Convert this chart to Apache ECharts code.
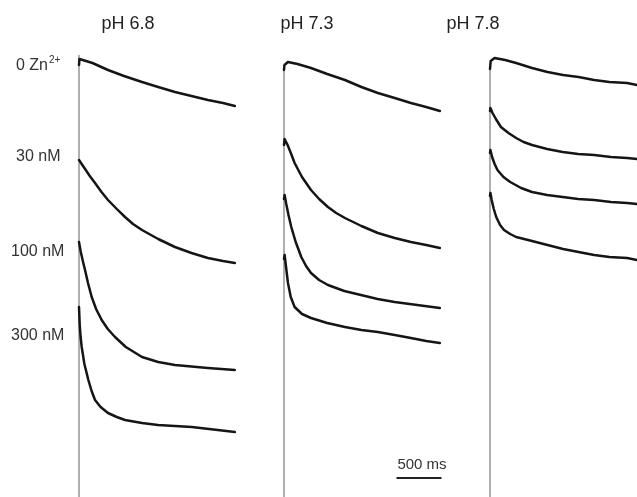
<!DOCTYPE html>
<html><head><meta charset="utf-8">
<script src="https://cdn.jsdelivr.net/npm/echarts@6/dist/echarts.min.js"></script>
<style>html,body{margin:0;padding:0;background:#fff}#c{width:637px;height:497px}</style>
</head><body><div id="c"></div>
<script>
// Panel titles and trace labels
const panelTitles = ['pH 6.8', 'pH 7.3', 'pH 7.8'];
const traceLabels = ['0 Zn', '30 nM', '100 nM', '300 nM'];

// Traces: [time (ms), current (a.u.)]
const ph68_zn0   = [[0,432],[5,438],[11,440],[150,434],[322,427],[500,421],[700,415],[880,410],[1066,405],[1250,401],[1432,397],[1600,394],[1732,391]];
const ph68_nM30  = [[0,337],[60,329],[120,321],[178,314],[250,305],[322,297],[420,288],[511,280],[600,273],[700,267],[880,258],[1066,250],[1250,244],[1432,239],[1600,236],[1732,234]];
const ph68_nM100 = [[0,255],[20,245],[45,235],[67,227],[100,214],[141,200],[190,188],[252,177],[320,168],[400,160],[520,150],[700,140],[880,135],[1066,132],[1432,129],[1732,127]];
const ph68_nM300 = [[0,190],[8,172],[18,160],[30,150],[60,133],[104,117],[140,106],[178,97],[240,90],[322,84],[420,80],[511,77],[700,74],[877,72],[1254,70],[1732,65]];

const ph73_zn0   = [[0,427],[5,432],[15,434],[44,435],[150,433],[300,429],[480,423],[677,417],[860,410],[1043,404],[1230,399],[1410,394],[1580,390],[1732,386]];
const ph73_nM30  = [[0,352],[7,358],[14,359],[40,352],[80,343],[118,334],[200,320],[300,307],[390,298],[488,290],[580,284],[677,279],[860,271],[1043,264],[1230,259],[1410,255],[1580,252],[1732,249]];
const ph73_nM100 = [[0,298],[7,302],[25,293],[50,282],[81,270],[130,255],[192,240],[245,231],[300,224],[390,217],[488,212],[670,206],[855,202],[1040,198],[1229,195],[1480,192],[1732,189]];
const ph73_nM300 = [[0,238],[7,242],[20,232],[44,214],[75,200],[118,190],[200,183],[300,179],[480,174],[677,170],[860,167],[1043,165],[1230,162],[1410,159],[1580,156],[1732,154]];

const ph78_zn0   = [[0,428],[8,436],[25,438],[55,439],[180,437],[311,434],[500,429],[685,425],[870,422],[1054,420],[1240,417],[1421,415],[1632,414],[1750,412]];
const ph78_nM30  = [[0,386],[5,389],[30,384],[70,378],[130,370],[220,364],[311,359],[400,355],[500,352],[680,348],[866,345],[1050,343],[1240,342],[1440,340],[1632,339],[1750,338]];
const ph78_nM100 = [[0,344],[5,347],[25,340],[55,333],[89,327],[160,320],[241,315],[370,309],[500,305],[680,302],[866,300],[1050,298],[1240,297],[1440,295],[1632,294],[1750,293]];
const ph78_nM300 = [[0,301],[5,304],[20,297],[45,288],[74,280],[120,272],[167,267],[240,263],[311,260],[500,256],[685,252],[870,248],[1054,245],[1240,242],[1421,240],[1632,239],[1750,237]];

// Rising phase (vertical) top per panel
const riseTops = [442, 427, 431];
// Scale bar (in panel 2 coordinates)
const scaleBar = [[1250,19],[1750,19]];
const scaleLabel = '500 ms';

const panelTraces = [
  [ph68_zn0, ph68_nM30, ph68_nM100, ph68_nM300],
  [ph73_zn0, ph73_nM30, ph73_nM100, ph73_nM300],
  [ph78_zn0, ph78_nM30, ph78_nM100, ph78_nM300]
];

const gridLefts = [79, 284, 490];
const titleCenters = [128, 307, 473];
const FONT = '"Liberation Sans", Arial, Helvetica, sans-serif';

const grid = gridLefts.map(l => ({left: l, top: 40, width: 157.5, height: 457}));
const xAxis = gridLefts.map((l, i) => ({gridIndex: i, type: 'value', min: 0, max: 1750, show: false}));
const yAxis = gridLefts.map((l, i) => ({gridIndex: i, type: 'value', min: 0, max: 457, show: false}));

const series = [];
panelTraces.forEach((traces, i) => {
  series.push({
    type: 'line', xAxisIndex: i, yAxisIndex: i, symbol: 'none', silent: true,
    data: [[0, 0], [0, riseTops[i]]],
    lineStyle: {color: '#7a7a7a', width: 1.2}
  });
  traces.forEach(t => {
    series.push({
      type: 'line', xAxisIndex: i, yAxisIndex: i, symbol: 'none', silent: true,
      smooth: false,
      data: t,
      lineStyle: {color: '#151515', width: 2.5, join: 'round', cap: 'round'}
    });
  });
});
series.push({
  type: 'line', xAxisIndex: 1, yAxisIndex: 1, symbol: 'none', silent: true,
  data: scaleBar, lineStyle: {color: '#222', width: 2}
});

const labelYs = [66, 157, 252, 336];
const graphic = [];
panelTitles.forEach((t, i) => {
  graphic.push({type: 'text', x: titleCenters[i], y: 24,
    style: {text: t, font: '18px ' + FONT, fill: '#222', textAlign: 'center', textVerticalAlign: 'middle'}});
});
traceLabels.forEach((t, i) => {
  const txt = i === 0 ? '{m|' + t + '}{sup|2+}' : t;
  graphic.push({type: 'text', x: i === 0 || i === 1 ? 16 : 11, y: labelYs[i],
    style: {text: txt, font: '16px ' + FONT, fill: '#333', textAlign: 'left', textVerticalAlign: 'middle',
      rich: {
        m: {fontSize: 16, fontFamily: FONT, lineHeight: 22, verticalAlign: 'middle', fill: '#333'},
        sup: {fontSize: 10, fontFamily: FONT, verticalAlign: 'top', lineHeight: 10, padding: [0,0,0,1], fill: '#333'}
      }}});
});
graphic.push({type: 'text', x: 422, y: 465,
  style: {text: scaleLabel, font: '15px ' + FONT, fill: '#333', textAlign: 'center', textVerticalAlign: 'middle'}});

const chart = echarts.init(document.getElementById('c'), null, {renderer: 'canvas'});
chart.setOption({animation: false, backgroundColor: '#fff', grid, xAxis, yAxis, series, graphic});
</script>
</body></html>
